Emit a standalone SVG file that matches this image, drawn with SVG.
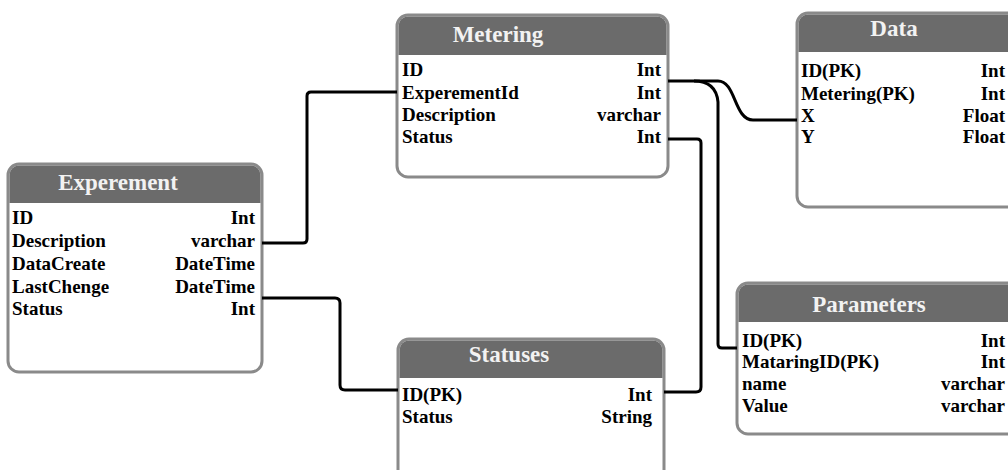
<svg xmlns="http://www.w3.org/2000/svg" width="1008" height="470" viewBox="0 0 1008 470">
  <style>
    .frame { fill: #ffffff; stroke: #8a8a8a; stroke-width: 3; }
    .head { fill: #6b6b6b; }
    .title { font-family: "Liberation Serif", "Times New Roman", serif; font-weight: bold; font-size: 23px; fill: #f2f2f2; text-anchor: middle; }
    .field { font-family: "Liberation Serif", "Times New Roman", serif; font-weight: bold; font-size: 19px; fill: #000000; }
    .type { text-anchor: end; }
    .link { fill: none; stroke: #000000; stroke-width: 3; stroke-linejoin: round; stroke-linecap: butt; }
  </style>
  <rect width="1008" height="470" fill="#ffffff"/>

  <!-- Experement table -->
  <g id="experement">
    <rect class="frame" x="8" y="164" width="254" height="208" rx="11"/>
    <path class="head" d="M9.5,203 V175 A9.5,9.5 0 0 1 19,165.5 H251 A9.5,9.5 0 0 1 260.5,175 V203 Z"/>
    <text class="title" x="118" y="190">Experement</text>
    <text class="field" x="12" y="224">ID</text>
    <text class="field" x="12" y="247">Description</text>
    <text class="field" x="12" y="270">DataCreate</text>
    <text class="field" x="12" y="293">LastChenge</text>
    <text class="field" x="12" y="315">Status</text>
    <text class="field type" x="255" y="224">Int</text>
    <text class="field type" x="255" y="247">varchar</text>
    <text class="field type" x="255" y="270">DateTime</text>
    <text class="field type" x="255" y="293">DateTime</text>
    <text class="field type" x="255" y="315">Int</text>
  </g>

  <!-- Metering table -->
  <g id="metering">
    <rect class="frame" x="397" y="15" width="271" height="162" rx="11"/>
    <path class="head" d="M398.5,55 V26 A9.5,9.5 0 0 1 408,16.5 H657 A9.5,9.5 0 0 1 666.5,26 V55 Z"/>
    <text class="title" x="498" y="42">Metering</text>
    <text class="field" x="402" y="76">ID</text>
    <text class="field" x="402" y="99">ExperementId</text>
    <text class="field" x="402" y="121">Description</text>
    <text class="field" x="402" y="143">Status</text>
    <text class="field type" x="661" y="76">Int</text>
    <text class="field type" x="661" y="99">Int</text>
    <text class="field type" x="661" y="121">varchar</text>
    <text class="field type" x="661" y="143">Int</text>
  </g>

  <!-- Data table (runs off the right edge) -->
  <g id="data">
    <rect class="frame" x="797" y="13" width="240" height="194" rx="11"/>
    <path class="head" d="M798.5,52 V24 A9.5,9.5 0 0 1 808,14.5 H1036 V52 Z"/>
    <text class="title" x="894" y="36">Data</text>
    <text class="field" x="801" y="77">ID(PK)</text>
    <text class="field" x="801" y="100">Metering(PK)</text>
    <text class="field" x="801" y="122">X</text>
    <text class="field" x="801" y="143">Y</text>
    <text class="field type" x="1005" y="77">Int</text>
    <text class="field type" x="1005" y="100">Int</text>
    <text class="field type" x="1005" y="122">Float</text>
    <text class="field type" x="1005" y="143">Float</text>
  </g>

  <!-- Parameters table (runs off the right edge) -->
  <g id="parameters">
    <rect class="frame" x="737" y="283" width="300" height="151" rx="11"/>
    <path class="head" d="M738.5,322 V294 A9.5,9.5 0 0 1 748,284.5 H1036 V322 Z"/>
    <text class="title" x="869" y="312">Parameters</text>
    <text class="field" x="742" y="347">ID(PK)</text>
    <text class="field" x="742" y="368">MataringID(PK)</text>
    <text class="field" x="742" y="390">name</text>
    <text class="field" x="742" y="412">Value</text>
    <text class="field type" x="1005" y="347">Int</text>
    <text class="field type" x="1005" y="368">Int</text>
    <text class="field type" x="1005" y="390">varchar</text>
    <text class="field type" x="1005" y="412">varchar</text>
  </g>

  <!-- Statuses table (runs off the bottom edge) -->
  <g id="statuses">
    <rect class="frame" x="398" y="339" width="266" height="160" rx="11"/>
    <path class="head" d="M399.5,378 V350 A9.5,9.5 0 0 1 409,340.5 H653 A9.5,9.5 0 0 1 662.5,350 V378 Z"/>
    <text class="title" x="509" y="362">Statuses</text>
    <text class="field" x="402" y="401">ID(PK)</text>
    <text class="field" x="402" y="423">Status</text>
    <text class="field type" x="652" y="401">Int</text>
    <text class="field type" x="652" y="423">String</text>
  </g>

  <!-- Relations between tables -->
  <g id="connectors">
    <path class="link" d="M262,243 H303 Q307,243 307,239 V96 Q307,92 311,92 H397"/>
    <path class="link" d="M262,298 H335 Q340,298 340,303 V385 Q340,390 345,390 H398"/>
    <path class="link" d="M668,81 H718 C736,81 734,120 753,120 H797"/>
    <path class="link" d="M694,81 Q716,81 718,102 V344 Q718,348 722,348 H737"/>
    <path class="link" d="M668,139 H697 Q701,139 701,143 V387 Q701,392 696,392 H664"/>
  </g>
</svg>
